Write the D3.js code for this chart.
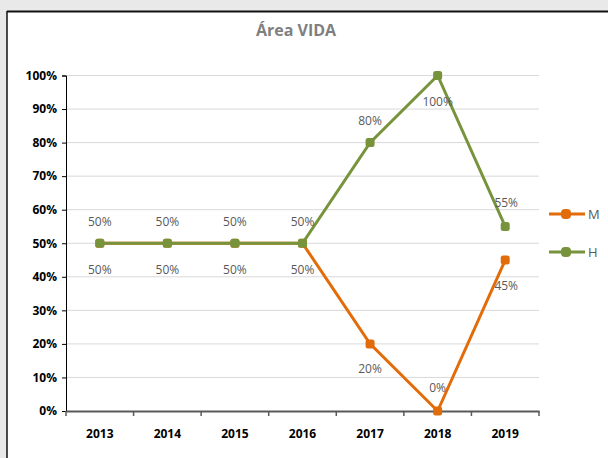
<!DOCTYPE html>
<html>
<head>
<meta charset="utf-8">
<script src="https://cdn.jsdelivr.net/npm/d3@7/dist/d3.min.js"></script>
<style>
  html, body { margin: 0; padding: 0; background: #e9e9e9; }
  #chart { width: 608px; height: 458px; }
</style>
</head>
<body>
<div id="chart"></div>
<script>
// chart data
const years = ['2013', '2014', '2015', '2016', '2017', '2018', '2019'];
const seriesM = [0.50, 0.50, 0.50, 0.50, 0.20, 0.00, 0.45];
const seriesH = [0.50, 0.50, 0.50, 0.50, 0.80, 1.00, 0.55];
const yTicks = [0, 0.1, 0.2, 0.3, 0.4, 0.5, 0.6, 0.7, 0.8, 0.9, 1.0];

const W = 608, H = 458;
const margin = { top: 75.5, right: 69, bottom: 47, left: 66 };
const innerW = W - margin.left - margin.right;
const innerH = H - margin.top - margin.bottom;
const font = '"Liberation Sans Narrow", "Open Sans", sans-serif';

const svg = d3.select('#chart').append('svg')
  .attr('width', W).attr('height', H);

// background + frame
svg.append('rect').attr('x', 7).attr('y', 12).attr('width', W).attr('height', H)
  .attr('fill', '#fff');
svg.append('line').attr('x1', 7).attr('x2', W).attr('y1', 11.5).attr('y2', 11.5)
  .attr('stroke', '#111').attr('stroke-width', 2);
svg.append('line').attr('x1', 7).attr('x2', 7).attr('y1', 11).attr('y2', H)
  .attr('stroke', '#111').attr('stroke-width', 1.5);

svg.append('text')
  .attr('x', 296).attr('y', 36)
  .attr('text-anchor', 'middle')
  .attr('font-family', font)
  .attr('font-weight', 'bold')
  .attr('font-size', '16px')
  .attr('fill', '#7f7f7f')
  .text('Área VIDA');

const g = svg.append('g').attr('transform', `translate(${margin.left},${margin.top})`);

const x = d3.scaleBand().domain(years).range([0, innerW]);
const y = d3.scaleLinear().domain([0, 1]).range([innerH, 0]);

// gridlines
g.selectAll('.grid').data(yTicks.slice(1)).enter().append('line')
  .attr('x1', 0).attr('x2', innerW)
  .attr('y1', d => y(d)).attr('y2', d => y(d))
  .attr('stroke', '#d9d9d9').attr('stroke-width', 1);

// y axis
const yAxis = g.append('g')
  .call(d3.axisLeft(y).tickValues(yTicks).tickSize(4).tickFormat(d3.format('.0%')));
yAxis.select('.domain').attr('stroke', '#000');
yAxis.selectAll('.tick line').attr('stroke', '#000');
yAxis.selectAll('text')
  .attr('x', -9)
  .attr('font-family', font)
  .attr('font-weight', 'bold')
  .attr('font-size', '12px')
  .attr('fill', '#000');

// x axis
const xAxis = g.append('g').attr('transform', `translate(0,${innerH})`)
  .call(d3.axisBottom(x).tickSize(0).tickPadding(18));
xAxis.select('.domain').attr('stroke', '#595959').attr('stroke-width', 2);
xAxis.selectAll('text')
  .attr('font-family', font)
  .attr('font-weight', 'bold')
  .attr('font-size', '12px')
  .attr('fill', '#000');
// category boundary ticks
g.selectAll('.xtick').data(years.concat(['end'])).enter().append('line')
  .attr('x1', (d, i) => i * x.step()).attr('x2', (d, i) => i * x.step())
  .attr('y1', innerH).attr('y2', innerH + 5)
  .attr('stroke', '#595959').attr('stroke-width', 1.5);

const cx = d => x(d) + x.bandwidth() / 2;
const line = d3.line().x((d, i) => cx(years[i])).y(d => y(d));

const series = [
  { name: 'M', values: seriesM, color: '#e36c0a', labelDy: [31, 31, 31, 31, 29, -19, 30], labelDx: [0, 0, 0, 0, 0, 0, 1] },
  { name: 'H', values: seriesH, color: '#77933c', labelDy: [-17, -17, -17, -17, -18, 30, -19], labelDx: [0, 0, 0, 0, 0, 0, 1] }
];

series.forEach(s => {
  g.append('path').datum(s.values)
    .attr('d', line)
    .attr('fill', 'none')
    .attr('stroke', s.color)
    .attr('stroke-width', 3);
  g.selectAll(null).data(s.values).enter().append('rect')
    .attr('x', (d, i) => cx(years[i]) - 4.5)
    .attr('y', d => y(d) - 4.5)
    .attr('width', 9).attr('height', 9)
    .attr('rx', 2.5)
    .attr('fill', s.color);
});

// data labels
series.forEach(s => {
  g.selectAll(null).data(s.values).enter().append('text')
    .attr('x', (d, i) => cx(years[i]) + s.labelDx[i])
    .attr('y', (d, i) => y(d) + s.labelDy[i])
    .attr('text-anchor', 'middle')
    .attr('font-family', font)
    .attr('font-size', '12px')
    .attr('fill', '#595959')
    .text(d => d3.format('.0%')(d));
});

// legend
const legend = svg.append('g').attr('transform', 'translate(549,0)');
[{ s: series[0], ly: 214 }, { s: series[1], ly: 252 }].forEach(({ s, ly }) => {
  legend.append('line').attr('x1', 0).attr('x2', 36).attr('y1', ly).attr('y2', ly)
    .attr('stroke', s.color).attr('stroke-width', 3);
  legend.append('rect').attr('x', 12).attr('y', ly - 5).attr('width', 10).attr('height', 10)
    .attr('rx', 4).attr('fill', s.color);
  legend.append('text').attr('x', 39).attr('y', ly + 5)
    .attr('font-family', font)
    .attr('font-size', '13px')
    .attr('fill', '#595959')
    .text(s.name);
});
</script>
</body>
</html>
